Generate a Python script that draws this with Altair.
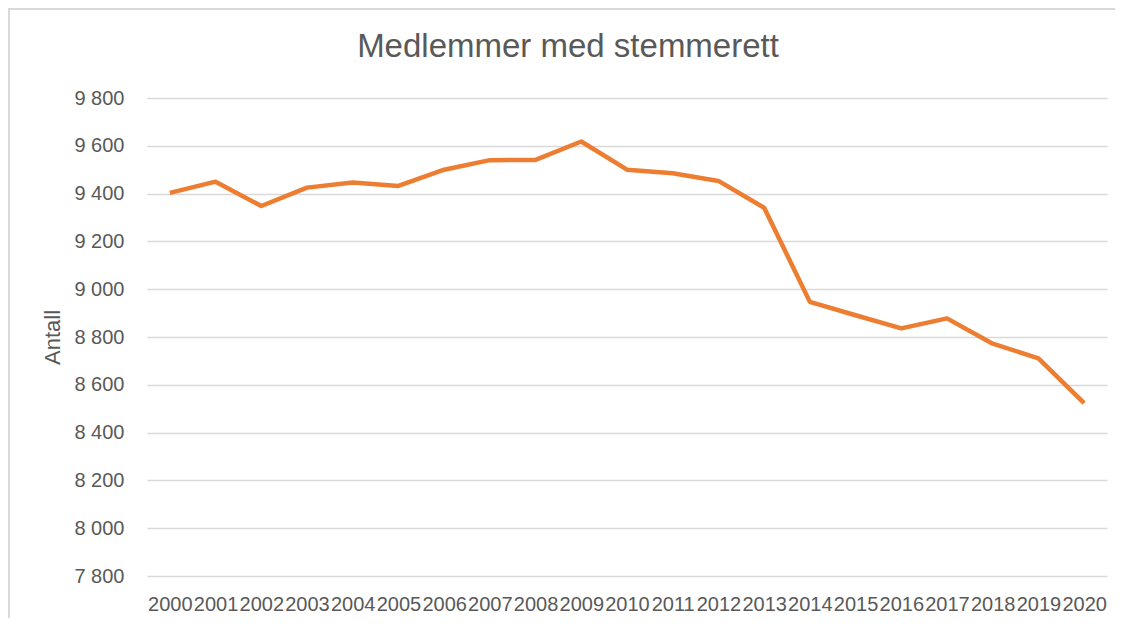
import altair as alt
import pandas as pd

years = [str(y) for y in range(2000, 2021)]
members = [9403, 9450, 9348, 9425, 9446, 9432, 9500, 9540, 9541, 9618,
           9500, 9485, 9453, 9341, 8947, 8891, 8836, 8878, 8772, 8711, 8523]

df = pd.DataFrame({"year": years, "antall": members})

W, H = 960, 478
PAD_L, PAD_T = 139, 90
GREY = "#595959"
FONT = "Liberation Sans"

line = alt.Chart(df).mark_line(color="#ED7D31", strokeWidth=4.5, strokeJoin="round").encode(
    x=alt.X("year:O", sort=years,
            axis=alt.Axis(title=None, labelAngle=0, labelOverlap=False, labelBound=False,
                          ticks=False, tickSize=0, domain=False, labelFontSize=20,
                          labelColor=GREY, labelFont=FONT, labelPadding=18)),
    y=alt.Y("antall:Q", scale=alt.Scale(domain=[7800, 9800], nice=False, zero=False),
            axis=alt.Axis(title="Antall", values=list(range(7800, 9801, 200)),
                          labelExpr="replace(format(datum.value, ','), ',', ' ')",
                          ticks=False, domain=False, labelFontSize=20, labelColor=GREY,
                          labelFont=FONT, labelPadding=23, titleFontSize=22,
                          titleColor=GREY, titleFont=FONT, titleFontWeight="normal",
                          titlePadding=9, gridColor="#d9d9d9", gridWidth=1.3)),
)

# chart-area frame: top and left sides only, as in the cropped reference
frame_data = alt.Data(values=[{"k": 1}])
frame_left = alt.Chart(frame_data).mark_rule(color="#d9d9d9", strokeWidth=2).encode(
    x=alt.value(-138), y=alt.value(-90), y2=alt.value(H + 42))
frame_top = alt.Chart(frame_data).mark_rule(color="#d9d9d9", strokeWidth=2).encode(
    x=alt.value(-139), x2=alt.value(W + 8), y=alt.value(-89))

chart = alt.layer(frame_left, frame_top, line).properties(
    width=W, height=H,
    autosize=alt.AutoSizeParams(type="none"),
    padding={"left": PAD_L, "top": PAD_T, "right": 8, "bottom": 42},
    title=alt.TitleParams("Medlemmer med stemmerett", fontSize=33, font=FONT,
                          fontWeight="normal", color=GREY, anchor="middle",
                          baseline="bottom", dx=-59, offset=-90),
).configure_view(stroke=None)

chart.save("out.html", embed_options={"renderer": "svg", "actions": False})
